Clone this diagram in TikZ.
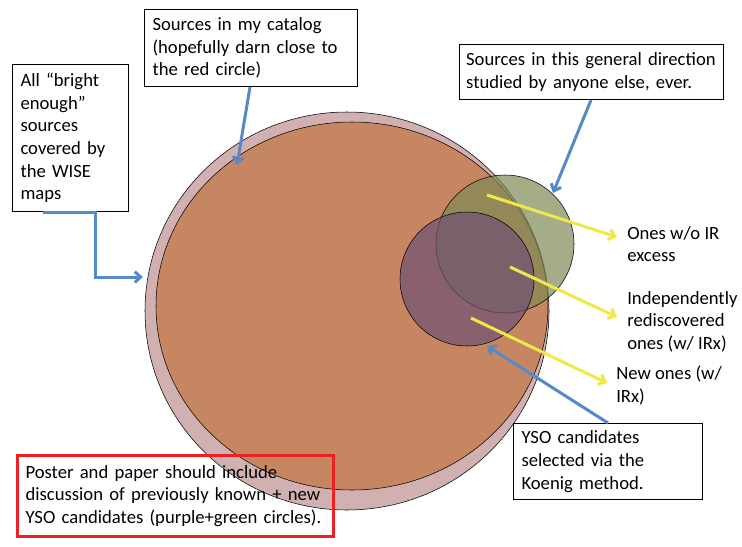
\documentclass[tikz,border=0pt]{standalone}
\usepackage{fontspec}
\setmainfont{Carlito}
\usepackage{xcolor}
\usepackage{tikz}
\usetikzlibrary{arrows.meta,calc}
\definecolor{ringpink}{RGB}{208,176,176}
\definecolor{catorange}{RGB}{198,134,98}
\definecolor{knowngreen}{RGB}{125,138,84}
\definecolor{ysopurple}{RGB}{112,80,115}
\definecolor{linkblue}{RGB}{86,138,198}
\definecolor{markyellow}{RGB}{240,232,72}
\definecolor{alertred}{RGB}{237,32,36}
\tikzset{
  box/.style={draw=black, line width=0.75pt, align=left, anchor=north west, inner xsep=6pt, inner ysep=2pt},
  tag/.style={align=left, anchor=north west, inner sep=0pt},
  bluearrow/.style={draw=linkblue, line width=2.25pt, -{Straight Barb[length=4.5pt,width=8pt]}},
  yellowarrow/.style={draw=markyellow, line width=2.25pt, -{Straight Barb[length=4.5pt,width=8pt]}}
}

\begin{document}
\begin{tikzpicture}[x=0.75pt,y=-0.75pt,font=\fontsize{14}{17}\selectfont]
\useasboundingbox (0,0) rectangle (742,546);
\draw[fill=ringpink] (347,311) ellipse [x radius=202, y radius=199];
\draw[fill=catorange] (352,306) ellipse [x radius=196, y radius=184];
\draw[fill=knowngreen, fill opacity=0.7] (505,244) circle [radius=69];
\draw[fill=ysopurple, fill opacity=0.7] (467,279) circle [radius=67];

\node[box, text width=75pt, minimum height=110.25pt] (wisebox) at (12,64) {All “bright\\enough”\\sources\\covered by\\the WISE\\maps};
\node[box, text width=147.75pt, minimum height=57.75pt] (catalogbox) at (144,9) {Sources in my catalog\\(hopefully darn close to\\the red circle)};
\node[box, inner xsep=5pt, text width=188pt, minimum height=41.25pt] (otherbox) at (459,44) {Sources in this general direction\\studied by anyone else, ever.};
\node[box, text width=129.75pt, minimum height=57pt] (koenigbox) at (513,423) {YSO candidates\\selected via the\\Koenig method.};
\node[box, draw=alertred, line width=2.25pt, text width=225pt, minimum height=60.75pt] (posterbox) at (16,454) {Poster and paper should include\\discussion of previously known + new\\YSO candidates (purple+green circles).};

\node[tag] (noexcess) at (627,226) {Ones w/o IR\\excess};
\node[tag] (rediscovered) at (627,291) {Independently\\rediscovered\\ones (w/ IRx)};
\node[tag] (newones) at (616,366) {New ones (w/\\IRx)};

\coordinate (wisetip) at (143,277);
\coordinate (catalogtip) at (237,165);
\coordinate (othertip) at (553,193);
\coordinate (koenigtip) at (487,346);
\coordinate (greenspot) at (487,195);
\coordinate (overlapspot) at (510,267);
\coordinate (purplespot) at (471,318);
\coordinate (noexcesstip) at (617,237);
\coordinate (rediscoveredtip) at (617,317);
\coordinate (newtip) at (607,383);

\draw[yellowarrow] (greenspot) -- (noexcesstip);
\draw[yellowarrow] (overlapspot) -- (rediscoveredtip);
\draw[yellowarrow] (purplespot) -- (newtip);

\draw[bluearrow] ($(wisebox.south west)+(31,0)$) -| ($(wisetip)+(-48,0)$) -- (wisetip);
\draw[bluearrow] ($(catalogbox.south west)+(106,0)$) -- (catalogtip);
\draw[bluearrow] ($(otherbox.south west)+(132,0)$) -- (othertip);
\draw[bluearrow] ($(koenigbox.north west)+(95,0)$) -- (koenigtip);
\end{tikzpicture}
\end{document}
